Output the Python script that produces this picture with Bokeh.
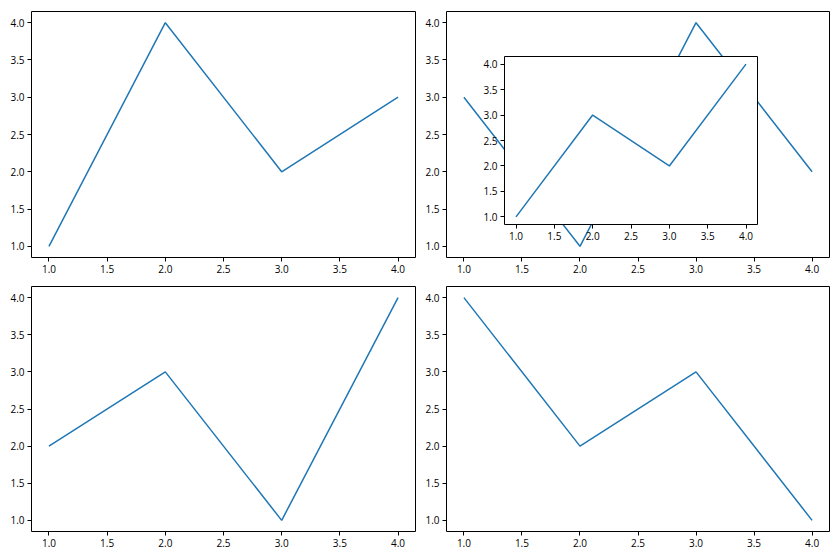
from bokeh.plotting import figure
from bokeh.layouts import column, row
from bokeh.models import FixedTicker, PrintfTickFormatter, Range1d
from bokeh.embed import file_html
from bokeh.resources import INLINE

x = [1, 2, 3, 4]
y_top_left = [1, 4, 2, 3]
y_top_right = [3, 1, 4, 2]
y_inset = [1, 3, 2, 4]
y_bottom_left = [2, 3, 1, 4]
y_bottom_right = [4, 2, 3, 1]
ticks = [1.0, 1.5, 2.0, 2.5, 3.0, 3.5, 4.0]

FONT = "Open Sans"
LINE = "#1f77b4"


def make(xs, ys, w, h, bl, br, bt, bb, **kw):
    p = figure(width=w, height=h, output_backend="svg", toolbar_location=None,
               x_range=Range1d(0.85, 4.15), y_range=Range1d(0.85, 4.15),
               min_border_left=bl, min_border_right=br, min_border_top=bt,
               min_border_bottom=bb, **kw)
    p.line(xs, ys, line_color=LINE, line_width=1.5)
    p.grid.visible = False
    p.outline_line_color = "black"
    p.outline_line_alpha = 1
    p.outline_line_width = 1
    for ax in (p.xaxis[0], p.yaxis[0]):
        ax.ticker = FixedTicker(ticks=ticks)
        ax.formatter = PrintfTickFormatter(format="%.1f")
        ax.axis_line_color = None
        ax.major_tick_line_color = "black"
        ax.major_tick_out = 4
        ax.major_tick_in = 0
        ax.minor_tick_line_color = None
        ax.major_label_text_font = FONT
        ax.major_label_text_font_size = "10px"
        ax.major_label_text_color = "black"
        ax.major_label_standoff = 3
    return p


p1 = make(x, y_top_left, 419, 279, 31, 4, 11, 22)
p2 = make(x, y_top_right, 421, 279, 27, 11, 11, 22)
p3 = make(x, y_bottom_left, 419, 281, 31, 4, 7, 29)
p4 = make(x, y_bottom_right, 421, 281, 27, 11, 7, 29)

inset = make(x, y_inset, 283, 195, 25, 5, 5, 22)
inset.border_fill_alpha = 0
inset.background_fill_color = "white"
inset.styles = {"position": "absolute", "left": "479px", "top": "51px", "z-index": "10"}

grid = column(row(p1, p2, spacing=0), row(p3, p4, spacing=0), spacing=0)

open("out.html", "w").write(file_html([grid, inset], INLINE))
